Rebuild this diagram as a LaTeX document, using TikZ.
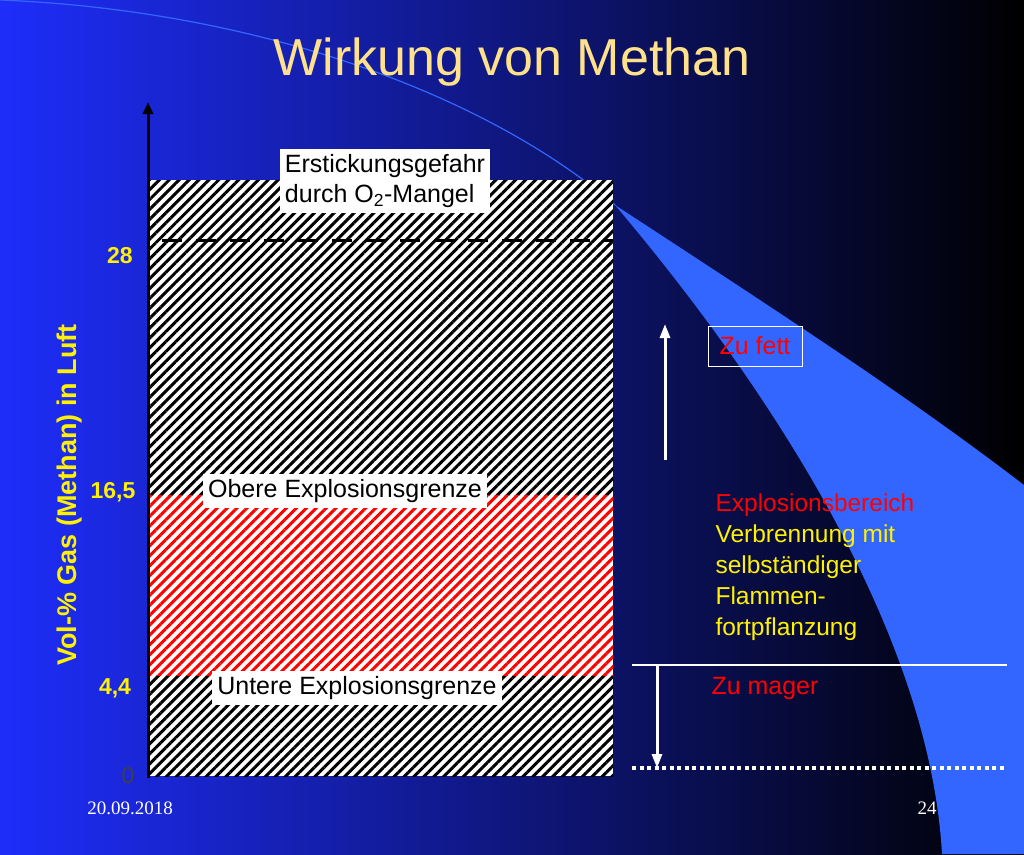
\documentclass[tikz,border=0pt]{standalone}
\usepackage{fontspec}
\setmainfont{Liberation Sans}
\newfontfamily\serif{Liberation Serif}
\usetikzlibrary{patterns.meta,arrows.meta}
\definecolor{lblue}{RGB}{51,102,255}
\definecolor{ttl}{RGB}{255,225,140}
\tikzset{
  hatchbase/.style={pattern={Lines[angle=45,distance=7pt,line width=3pt]}},
  lab/.style={fill=white,inner sep=5pt,font=\fontsize{25}{30}\selectfont,align=left},
  tick/.style={text=yellow,font=\bfseries\fontsize{23}{27}\selectfont},
  side/.style={font=\fontsize{24.5}{31}\selectfont,align=left,anchor=north west},
}
\begin{document}
\begin{tikzpicture}[x=1pt,y=-1pt]
\useasboundingbox (0,0) rectangle (1024,854);
\shade[left color={rgb,255:red,30;green,45;blue,250},right color=black] (0,0) rectangle (1024,854);
\draw[lblue,line width=1.2pt] (0,0) .. controls (250,10) and (480,90) .. (615,205);
\fill[lblue] (615,205) .. controls (760,300) and (900,390) .. (1024,485) -- (1024,854) -- (942,854) .. controls (930,640) and (780,400) .. (615,205) -- cycle;
% title
\node[text=black!75,font=\fontsize{52}{56}\selectfont] (shadow) at (515,65) {\phantom{W}};
\node[text=ttl,font=\fontsize{52}{56}\selectfont] (title) at (512,62) {Wirkung von Methan};
% bars
\fill[white] (148,180) rectangle (613,776);
\fill[black,hatchbase] (148,180) rectangle (613,495);
\fill[black,hatchbase] (148,675) rectangle (613,776);
\fill[hatchbase,pattern color=red] (148,495) rectangle (613,675);
\draw[black,line width=3pt,dash pattern=on 20pt off 14pt] (162,240) -- (613,240);
\coordinate (ax0) at (148,778);
\coordinate (ax1) at (148,102);
\draw[black,line width=3pt,-{Triangle[length=12pt,width=10pt]}] (ax0) -- (ax1);
\node[lab] (e) at (385,181) {Erstickungsgefahr\\durch O\textsubscript{2}-Mangel};
\node[lab] (o) at (345,491) {Obere Explosionsgrenze};
\node[lab] (u) at (357,688) {Untere Explosionsgrenze};
\node[tick] (t28) at (120,256) {28};
\node[tick] (t16) at (113,492) {16,5};
\node[tick] (t4) at (115,688) {4,4};
\node[text=black!75,font=\fontsize{23}{27}\selectfont] (t0) at (128,776) {0};
\node[text=yellow,font=\bfseries\fontsize{27}{31}\selectfont,rotate=90] (ylab) at (70,495) {Vol-\% Gas (Methan) in Luft};
% right
\node[draw=white,fill=none,text=red,minimum width=94pt,minimum height=40pt,font=\fontsize{25}{30}\selectfont] (fett) at (755,346) {Zu fett};
\coordinate (a1) at (665,460); \coordinate (a2) at (665,324);
\draw[white,line width=3pt,-{Triangle[length=14pt,width=10pt]}] (a1) -- (a2);
\node[side] (ex) at (712,490) {\textcolor{red}{Explosionsbereich}\\\textcolor{yellow}{Verbrennung mit}\\\textcolor{yellow}{selbständiger}\\\textcolor{yellow}{Flammen-}\\\textcolor{yellow}{fortpflanzung}};
\coordinate (l1) at (632,665); \coordinate (l2) at (1007,665);
\draw[white,line width=1.2pt] (l1) -- (l2);
\coordinate (d1) at (657,665); \coordinate (d2) at (657,768);
\draw[white,line width=3pt,-{Triangle[length=14pt,width=10pt]}] (d1) -- (d2);
\node[text=red,font=\fontsize{25}{30}\selectfont] (mag) at (765,688) {Zu mager};
\coordinate (p1) at (632,768); \coordinate (p2) at (1005,768);
\draw[white,line width=4pt,dash pattern=on 4pt off 3.5pt] (p1) -- (p2);
\node[text=white,font=\serif\fontsize{19}{22}\selectfont] (date) at (130,808) {20.09.2018};
\node[text=white,font=\serif\fontsize{19}{22}\selectfont] (pg) at (927,808) {24};
\end{tikzpicture}
\end{document}
